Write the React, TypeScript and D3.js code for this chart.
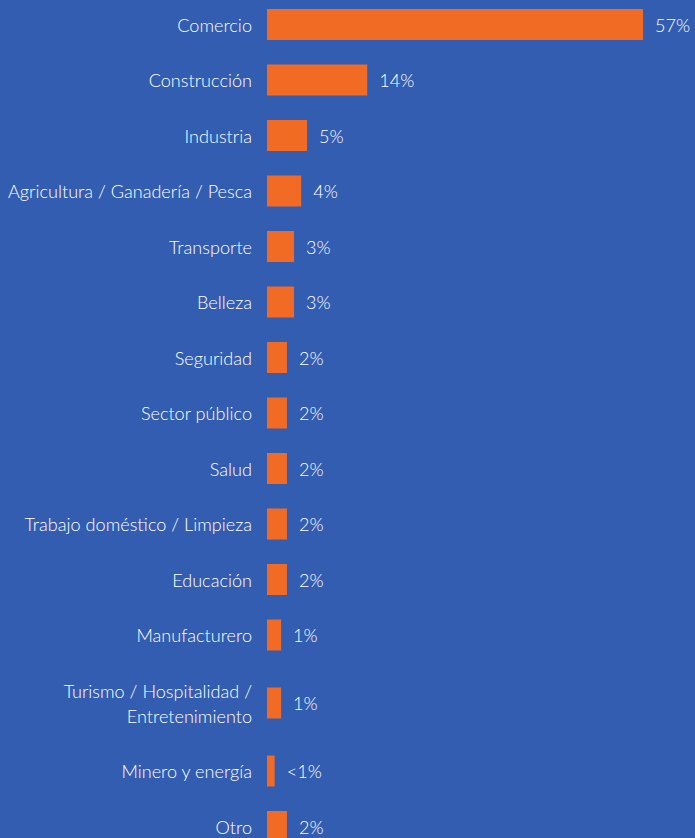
import * as React from 'react'
import * as d3 from 'd3'

const width = 695
const height = 838
const bg = '#335db1'
const orange = '#f26b24'

const sectors = [
  'Comercio',
  'Construcción',
  'Industria',
  'Agricultura / Ganadería / Pesca',
  'Transporte',
  'Belleza',
  'Seguridad',
  'Sector público',
  'Salud',
  'Trabajo doméstico / Limpieza',
  'Educación',
  'Manufacturero',
  'Turismo / Hospitalidad /\nEntretenimiento',
  'Minero y energía',
  'Otro',
]
const shares = [57, 14.4, 5.1, 4.2, 3.1, 3.1, 2, 2, 2, 2, 2, 1.1, 1.1, 0.1, 2]
const shareLabels = ['57%', '14%', '5%', '4%', '3%', '3%', '2%', '2%', '2%', '2%', '2%', '1%', '1%', '<1%', '2%']

const barX = 267
const labelRight = 252
const rowH = 55.5
const lineH = 25
const barH = 31
const firstTop = -3.25
const fontSize = 18.1

const App = () => {
  const lines = sectors.map(s => s.split('\n'))
  const heights = lines.map(l => rowH + (l.length - 1) * lineH)
  const ends = Array.from(d3.cumsum(heights))
  const centers = ends.map((e, i) => firstTop + e - heights[i] / 2)

  const xScale = d3.scaleLinear().domain([0, d3.max(shares) as number]).range([7, 376])

  return (
    <div style={{ position: 'absolute', left: 0, top: 0 }}>
      <svg width={width} height={height} style={{ display: 'block' }}>
        <rect width={width} height={height} fill={bg} />
        <g fontFamily="Lato, 'Open Sans', sans-serif" fontWeight={300} fontSize={fontSize} fill="#fff">
          {sectors.map((s, i) => {
            const cy = centers[i]
            const w = xScale(shares[i])
            const ls = lines[i]
            return (
              <g key={s}>
                <rect x={barX} y={cy - barH / 2} width={w} height={barH} fill={orange} />
                {ls.map((t, j) => (
                  <text
                    key={j}
                    x={labelRight}
                    y={cy + (j - (ls.length - 1) / 2) * lineH}
                    textAnchor="end"
                    dominantBaseline="central"
                  >
                    {t}
                  </text>
                ))}
                <text x={barX + w + 12} y={cy} dominantBaseline="central">
                  {shareLabels[i]}
                </text>
              </g>
            )
          })}
        </g>
      </svg>
    </div>
  )
}

export default App
